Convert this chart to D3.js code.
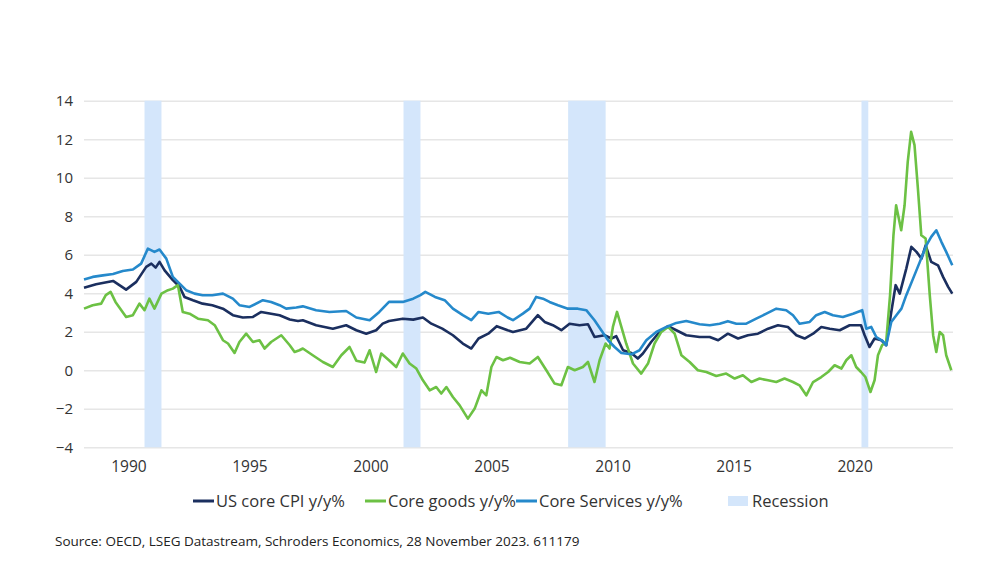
<!DOCTYPE html>
<html>
<head>
<meta charset="utf-8">
<script src="https://cdn.jsdelivr.net/npm/d3@7/dist/d3.min.js"></script>
<style>
  body { margin: 0; background: #fff; }
  #chart { width: 992px; height: 570px; }
  text { font-family: "Open Sans", "Noto Sans", sans-serif; fill: #333; }
</style>
</head>
<body>
<div id="chart"></div>
<script>
// Values: [decimal year, % y/y]
const recessions = [[1990.5, 1991.2], [2001.2, 2001.9], [2008.0, 2009.55], [2020.12, 2020.4]];

const coreCpi = [
  [1988.0, 4.29], [1988.5, 4.47], [1989.2, 4.64], [1989.74, 4.19], [1990.16, 4.59], [1990.57, 5.37],
  [1990.78, 5.54], [1990.96, 5.33], [1991.12, 5.63], [1991.33, 5.19], [1991.67, 4.68], [1991.95, 4.33],
  [1992.15, 3.81], [1992.5, 3.64], [1992.9, 3.46], [1993.3, 3.38], [1993.74, 3.2], [1994.15, 2.86],
  [1994.56, 2.74], [1994.98, 2.77], [1995.32, 3.03], [1995.73, 2.94], [1996.08, 2.86], [1996.5, 2.64],
  [1996.84, 2.56], [1997.04, 2.6], [1997.59, 2.34], [1998.28, 2.16], [1998.83, 2.34], [1999.25, 2.08],
  [1999.66, 1.9], [2000.07, 2.08], [2000.34, 2.42], [2000.6, 2.56], [2001.17, 2.68], [2001.6, 2.63],
  [2002.0, 2.74], [2002.35, 2.42], [2002.8, 2.16], [2003.24, 1.82], [2003.65, 1.39], [2004.0, 1.13],
  [2004.3, 1.65], [2004.7, 1.9], [2005.05, 2.29], [2005.5, 2.08], [2005.72, 1.99], [2006.27, 2.16],
  [2006.75, 2.86], [2007.03, 2.51], [2007.37, 2.34], [2007.72, 2.08], [2008.06, 2.42], [2008.47, 2.34],
  [2008.82, 2.39], [2009.09, 1.73], [2009.51, 1.82], [2009.78, 1.65], [2009.99, 1.77], [2010.27, 1.04],
  [2010.61, 0.9], [2010.88, 0.61], [2011.09, 0.87], [2011.43, 1.47], [2011.78, 1.99], [2012.13, 2.29],
  [2012.47, 2.08], [2012.88, 1.82], [2013.43, 1.73], [2013.85, 1.73], [2014.2, 1.56], [2014.6, 1.9],
  [2015.02, 1.65], [2015.43, 1.82], [2015.84, 1.9], [2016.26, 2.16], [2016.67, 2.34], [2017.08, 2.25],
  [2017.43, 1.82], [2017.77, 1.65], [2018.12, 1.9], [2018.46, 2.25], [2018.81, 2.16], [2019.22, 2.08],
  [2019.63, 2.34], [2020.1, 2.34], [2020.25, 1.82], [2020.45, 1.21], [2020.66, 1.65], [2020.94, 1.56],
  [2021.14, 1.3], [2021.35, 3.03], [2021.53, 4.42], [2021.7, 3.98], [2021.97, 5.28], [2022.18, 6.41],
  [2022.39, 6.15], [2022.6, 5.8], [2022.77, 6.49], [2023.0, 5.63], [2023.28, 5.45], [2023.49, 4.85],
  [2023.7, 4.33], [2023.87, 3.98]
];

const coreGoods = [
  [1988.0, 3.2], [1988.36, 3.38], [1988.71, 3.46], [1988.9, 3.9], [1989.1, 4.07], [1989.3, 3.55],
  [1989.74, 2.77], [1990.02, 2.86], [1990.29, 3.46], [1990.5, 3.12], [1990.7, 3.72], [1990.91, 3.2],
  [1991.2, 3.98], [1991.47, 4.16], [1991.67, 4.24], [1991.88, 4.42], [1992.08, 3.03], [1992.36, 2.94],
  [1992.71, 2.68], [1993.12, 2.6], [1993.4, 2.34], [1993.74, 1.56], [1993.95, 1.39], [1994.22, 0.9],
  [1994.42, 1.47], [1994.7, 1.9], [1994.98, 1.47], [1995.25, 1.56], [1995.46, 1.13], [1995.73, 1.47],
  [1996.15, 1.82], [1996.5, 1.3], [1996.7, 0.95], [1996.9, 1.04], [1997.04, 1.13], [1997.45, 0.78],
  [1997.87, 0.43], [1998.28, 0.17], [1998.63, 0.78], [1998.97, 1.21], [1999.25, 0.5], [1999.59, 0.4],
  [1999.8, 1.04], [2000.07, -0.09], [2000.28, 0.87], [2000.6, 0.52], [2000.9, 0.17], [2001.17, 0.87],
  [2001.45, 0.35], [2001.73, 0.09], [2002.0, -0.52], [2002.28, -1.04], [2002.55, -0.87], [2002.76, -1.21],
  [2002.97, -0.87], [2003.24, -1.39], [2003.52, -1.82], [2003.86, -2.51], [2004.14, -1.99], [2004.42, -1.04],
  [2004.62, -1.3], [2004.83, 0.17], [2005.04, 0.69], [2005.31, 0.52], [2005.6, 0.65], [2006.0, 0.43],
  [2006.41, 0.35], [2006.75, 0.69], [2007.1, 0.0], [2007.44, -0.69], [2007.72, -0.78], [2007.99, 0.17],
  [2008.27, 0.0], [2008.61, 0.17], [2008.82, 0.43], [2009.09, -0.61], [2009.3, 0.52], [2009.55, 1.39],
  [2009.71, 1.13], [2009.85, 2.25], [2010.02, 3.03], [2010.2, 2.25], [2010.4, 1.39], [2010.68, 0.35],
  [2011.02, -0.17], [2011.3, 0.35], [2011.57, 1.39], [2011.85, 1.99], [2012.13, 2.25], [2012.4, 1.9],
  [2012.68, 0.78], [2013.02, 0.43], [2013.36, 0.0], [2013.71, -0.09], [2014.12, -0.3], [2014.53, -0.17],
  [2014.88, -0.43], [2015.22, -0.26], [2015.57, -0.61], [2015.91, -0.43], [2016.26, -0.52], [2016.6, -0.61],
  [2016.94, -0.43], [2017.29, -0.61], [2017.56, -0.78], [2017.84, -1.3], [2018.12, -0.61], [2018.46, -0.35],
  [2018.74, -0.09], [2019.01, 0.26], [2019.29, 0.09], [2019.49, 0.52], [2019.7, 0.78], [2019.9, 0.17],
  [2020.1, -0.09], [2020.28, -0.35], [2020.49, -1.13], [2020.66, -0.52], [2020.8, 0.78], [2020.97, 1.3],
  [2021.14, 1.47], [2021.3, 3.9], [2021.44, 7.01], [2021.55, 8.57], [2021.76, 7.27], [2021.9, 8.57],
  [2022.03, 10.82], [2022.17, 12.38], [2022.31, 11.69], [2022.45, 9.44], [2022.59, 7.01], [2022.77, 6.84],
  [2022.94, 3.9], [2023.08, 1.82], [2023.21, 0.95], [2023.35, 1.99], [2023.49, 1.82], [2023.62, 0.78],
  [2023.83, 0.0]
];

const coreServices = [
  [1988.0, 4.71], [1988.36, 4.85], [1988.78, 4.93], [1989.2, 5.0], [1989.6, 5.16], [1990.02, 5.23],
  [1990.36, 5.54], [1990.64, 6.32], [1990.91, 6.15], [1991.12, 6.27], [1991.4, 5.8], [1991.67, 4.85],
  [1991.95, 4.5], [1992.22, 4.16], [1992.57, 3.98], [1992.9, 3.9], [1993.3, 3.9], [1993.74, 3.98],
  [1994.15, 3.72], [1994.42, 3.38], [1994.84, 3.29], [1995.39, 3.64], [1995.73, 3.55], [1996.08, 3.38],
  [1996.35, 3.2], [1996.77, 3.26], [1997.04, 3.32], [1997.59, 3.12], [1998.14, 3.03], [1998.83, 3.08],
  [1999.25, 2.74], [1999.8, 2.6], [2000.2, 3.03], [2000.6, 3.55], [2001.17, 3.55], [2001.6, 3.72],
  [2001.9, 3.9], [2002.1, 4.07], [2002.5, 3.81], [2002.9, 3.64], [2003.24, 3.2], [2003.65, 2.86],
  [2004.0, 2.6], [2004.3, 3.03], [2004.7, 2.94], [2005.13, 3.03], [2005.5, 2.74], [2005.72, 2.6],
  [2006.13, 2.94], [2006.41, 3.2], [2006.68, 3.81], [2006.96, 3.72], [2007.23, 3.55], [2007.58, 3.38],
  [2007.99, 3.2], [2008.4, 3.2], [2008.75, 3.12], [2009.09, 2.6], [2009.37, 2.08], [2009.65, 1.56],
  [2009.92, 1.21], [2010.2, 0.9], [2010.61, 0.83], [2010.95, 1.04], [2011.23, 1.56], [2011.64, 1.99],
  [2012.06, 2.25], [2012.47, 2.46], [2012.88, 2.56], [2013.43, 2.39], [2013.85, 2.34], [2014.26, 2.42],
  [2014.6, 2.55], [2014.95, 2.42], [2015.36, 2.42], [2015.77, 2.68], [2016.19, 2.94], [2016.6, 3.2],
  [2017.01, 3.12], [2017.29, 2.86], [2017.56, 2.42], [2017.98, 2.51], [2018.25, 2.86], [2018.6, 3.03],
  [2018.94, 2.86], [2019.35, 2.77], [2019.77, 2.94], [2020.15, 3.12], [2020.32, 2.16], [2020.52, 2.25],
  [2020.73, 1.73], [2021.0, 1.51], [2021.14, 1.3], [2021.35, 2.51], [2021.56, 2.86], [2021.77, 3.2],
  [2021.97, 3.9], [2022.25, 4.76], [2022.53, 5.63], [2022.8, 6.49], [2023.0, 6.93], [2023.21, 7.27],
  [2023.42, 6.67], [2023.62, 6.15], [2023.87, 5.45]
];

const yTicks = [-4, -2, 0, 2, 4, 6, 8, 10, 12, 14];
const xTicks = [1990, 1995, 2000, 2005, 2010, 2015, 2020];
const seriesNames = ['US core CPI y/y%', 'Core goods y/y%', 'Core Services y/y%'];
const recessionLabel = 'Recession';
const sourceText = 'Source: OECD, LSEG Datastream, Schroders Economics, 28 November 2023. 611179';

const colors = {
  cpi: '#1b2f5f',
  goods: '#6cc144',
  services: '#2589cb',
  recession: '#d4e6fb',
  grid: '#e6e6e6'
};

const width = 992;
const height = 570;
const plot = { left: 84, right: 953, top: 100.7, bottom: 447.3 };

const svg = d3.select('#chart')
  .append('svg')
  .attr('width', width)
  .attr('height', height)
  .style('background', '#fff');

const x = d3.scaleLinear().domain([1988, 2023.9]).range([plot.left, plot.right]);
const y = d3.scaleLinear().domain([-4, 14]).range([plot.bottom, plot.top]);

// Grid + y labels
const yAxis = svg.append('g')
  .attr('transform', `translate(${plot.left},0)`)
  .call(d3.axisLeft(y).tickValues(yTicks).tickSize(-(plot.right - plot.left)).tickPadding(11));
yAxis.select('.domain').remove();
yAxis.selectAll('line').attr('stroke', colors.grid).attr('stroke-width', 1.6);
yAxis.selectAll('text').style('font-size', '15px').style('fill', '#333');

// Recession bands (over the grid)
svg.append('g').selectAll('rect')
  .data(recessions)
  .enter()
  .append('rect')
  .attr('x', d => x(d[0]))
  .attr('y', y(14))
  .attr('width', d => x(d[1]) - x(d[0]))
  .attr('height', y(-4) - y(14))
  .attr('fill', colors.recession);

// x labels
const xAxis = svg.append('g')
  .attr('transform', `translate(0,${plot.bottom})`)
  .call(d3.axisBottom(x).tickValues(xTicks).tickFormat(d3.format('d')).tickSize(0).tickPadding(14));
xAxis.select('.domain').remove();
xAxis.selectAll('text').attr('dx', -4).style('font-size', '15.5px').style('fill', '#333');

// Lines
const line = d3.line().x(d => x(d[0])).y(d => y(d[1]));
const series = [
  { data: coreCpi, color: colors.cpi },
  { data: coreGoods, color: colors.goods },
  { data: coreServices, color: colors.services }
];
svg.append('g').selectAll('path')
  .data(series)
  .enter()
  .append('path')
  .attr('d', d => line(d.data))
  .attr('fill', 'none')
  .attr('stroke', d => d.color)
  .attr('stroke-width', 2.6)
  .attr('stroke-linejoin', 'round');

// Legend
const legendY = 501;
const legendX = [193, 365, 516];
const legend = svg.append('g');
seriesNames.forEach((name, i) => {
  legend.append('line')
    .attr('x1', legendX[i]).attr('x2', legendX[i] + 21)
    .attr('y1', legendY).attr('y2', legendY)
    .attr('stroke', series[i].color).attr('stroke-width', 3);
  legend.append('text')
    .attr('x', legendX[i] + 23).attr('y', legendY)
    .attr('dy', '0.35em')
    .style('font-size', '16.5px')
    .text(name);
});
legend.append('rect')
  .attr('x', 728).attr('y', legendY - 5)
  .attr('width', 20).attr('height', 10)
  .attr('fill', colors.recession);
legend.append('text')
  .attr('x', 752).attr('y', legendY)
  .attr('dy', '0.35em')
  .style('font-size', '16.5px')
  .text(recessionLabel);

// Source note
svg.append('text')
  .attr('x', 55).attr('y', 541)
  .attr('dy', '0.35em')
  .style('font-size', '13.5px')
  .style('fill', '#222')
  .text(sourceText);
</script>
</body>
</html>
